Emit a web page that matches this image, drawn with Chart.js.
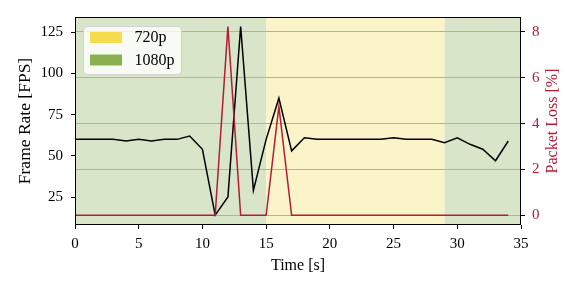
<!DOCTYPE html>
<html>
<head>
<meta charset="utf-8">
<script src="https://cdn.jsdelivr.net/npm/chart.js@4"></script>
<style>
html, body { margin: 0; padding: 0; background: #fff; }
#wrap { width: 581px; height: 291px; }
</style>
</head>
<body>
<div id="wrap"><canvas id="c" width="581" height="291"></canvas></div>
<script>
// data
const times = [0,1,2,3,4,5,6,7,8,9,10,11,12,13,14,15,16,17,18,19,20,21,22,23,24,25,26,27,28,29,30,31,32,33,34];
const frameRate = [60,60,60,60,59,60,59,60,60,62,54,14,25,128.5,29,60,85,53,61,60,60,60,60,60,60,61,60,60,60,58,61,57,54,47,59];
const packetLoss = [0,0,0,0,0,0,0,0,0,0,0,0,8.23,0,0,0,4.75,0,0,0,0,0,0,0,0,0,0,0,0,0,0,0,0,0,0];
const timeTicks = [0,5,10,15,20,25,30,35];
const fpsTicks = [25,50,75,100,125];
const lossTicks = [0,2,4,6,8];
const spanStarts = [0,15,29];
const spanEnds = [15,29,35];
const spanRes = ['1080p','720p','1080p'];
const legendLabels = ['720p','1080p'];

// styles
const RED = '#b41c36';
const bgColors = { '720p': '#fbf4c9', '1080p': '#d9e5c8' };
const patchColors = { '720p': '#f4dc4e', '1080p': '#8ab14f' };
const FONT = '"Liberation Serif", "DejaVu Serif", serif';

Chart.defaults.font.family = FONT;
Chart.defaults.font.size = 15;
Chart.defaults.color = '#000';

const fixTicks = arr => s => { s.ticks = arr.map(v => ({ value: v })); };

const spans = {
    id: 'spans',
    beforeDraw(chart) {
        const { ctx, chartArea: a, scales: { x } } = chart;
        ctx.save();
        spanStarts.forEach((s, i) => {
            const x0 = x.getPixelForValue(s), x1 = x.getPixelForValue(spanEnds[i]);
            ctx.fillStyle = bgColors[spanRes[i]];
            ctx.fillRect(x0, a.top, x1 - x0, a.bottom - a.top);
        });
        ctx.restore();
    }
};

const frame = {
    id: 'frame',
    afterDraw(chart) {
        const { ctx, chartArea: a } = chart;
        ctx.save();
        // spines
        ctx.strokeStyle = '#000';
        ctx.lineWidth = 1;
        ctx.strokeRect(Math.round(a.left) + 0.5, Math.round(a.top) + 0.5,
            Math.round(a.right - a.left) - 1, Math.round(a.bottom - a.top) - 1);

        // right axis title, read bottom-to-top
        ctx.fillStyle = RED;
        ctx.font = '16px ' + FONT;
        ctx.textAlign = 'center';
        ctx.textBaseline = 'middle';
        ctx.translate(553, (a.top + a.bottom) / 2);
        ctx.rotate(-Math.PI / 2);
        ctx.fillText('Packet Loss [%]', 0, 0);
        ctx.restore();

        // legend box
        ctx.save();
        const lx = a.left + 8.5, ly = a.top + 9.5, lw = 98, lh = 48;
        ctx.beginPath();
        ctx.roundRect(lx, ly, lw, lh, 4);
        ctx.fillStyle = 'rgba(255,255,255,0.8)';
        ctx.fill();
        ctx.strokeStyle = 'rgba(204,204,204,0.8)';
        ctx.lineWidth = 1;
        ctx.stroke();
        ctx.font = '16px ' + FONT;
        ctx.textAlign = 'left';
        ctx.textBaseline = 'middle';
        legendLabels.forEach((lab, i) => {
            const py = ly + 5.5 + i * 22.5;
            ctx.fillStyle = patchColors[lab];
            ctx.fillRect(lx + 6.5, py, 32, 11);
            ctx.fillStyle = '#000';
            ctx.fillText(lab, lx + 51, py + 6);
        });
        ctx.restore();
    }
};

new Chart(document.getElementById('c'), {
    type: 'line',
    data: {
        datasets: [{
            label: 'Packet Loss',
            data: times.map((t, i) => ({ x: t, y: packetLoss[i] })),
            yAxisID: 'y2',
            borderColor: RED,
            borderWidth: 1.5,
            pointRadius: 0,
            tension: 0,
            order: 0
        }, {
            label: 'Frame Rate',
            data: times.map((t, i) => ({ x: t, y: frameRate[i] })),
            yAxisID: 'y',
            borderColor: '#000',
            borderWidth: 1.5,
            pointRadius: 0,
            tension: 0,
            order: 1
        }]
    },
    options: {
        responsive: false,
        animation: false,
        layout: { padding: { top: 17, left: 0, right: 0, bottom: 0 } },
        plugins: { legend: { display: false }, tooltip: { enabled: false } },
        scales: {
            x: {
                type: 'linear', min: 0, max: 35,
                afterBuildTicks: fixTicks(timeTicks),
                afterFit: s => { s.height = 66; },
                ticks: { padding: 6, autoSkip: false, maxRotation: 0 },
                grid: { drawOnChartArea: false, tickLength: 4, tickColor: '#000' },
                border: { display: false },
                title: { display: true, text: 'Time [s]', font: { size: 16 }, padding: { bottom: 16 } }
            },
            y: {
                position: 'left', min: 8, max: 134.3,
                afterBuildTicks: fixTicks(fpsTicks),
                afterFit: s => { s.width = 75; },
                ticks: { padding: 8, autoSkip: false },
                grid: { drawOnChartArea: false, tickLength: 4, tickColor: '#000' },
                border: { display: false },
                title: { display: true, text: 'Frame Rate [FPS]', font: { size: 17.5 }, padding: { top: 14.5 } }
            },
            y2: {
                position: 'right', min: -0.42, max: 8.65,
                afterBuildTicks: fixTicks(lossTicks),
                afterFit: s => { s.width = 60; },
                ticks: { padding: 7, autoSkip: false, color: RED },
                grid: { drawOnChartArea: true, color: '#b0b0b0', lineWidth: 1, tickLength: 4, tickColor: '#000' },
                border: { display: false }
            }
        }
    },
    plugins: [spans, frame]
});
</script>
</body>
</html>
